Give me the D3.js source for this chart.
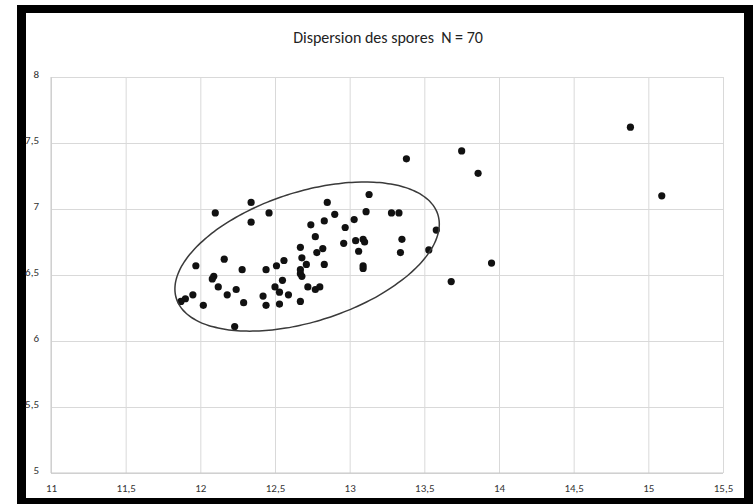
<!DOCTYPE html>
<meta charset="utf-8">
<style>
    body { margin: 0; background: #fff; }
    text { font-family: Carlito, Calibri, Lato, "Liberation Sans", sans-serif; }
    .tick text { fill: #333; font-size: 11px; }
</style>
<body>
<script src="https://cdn.jsdelivr.net/npm/d3@7/dist/d3.min.js"></script>
<script>

    var width = 753;
    var height = 504;

    // axis ticks
    var xTicks = [11, 11.5, 12, 12.5, 13, 13.5, 14, 14.5, 15, 15.5];
    var yTicks = [5, 5.5, 6, 6.5, 7, 7.5, 8];

    // spore length (x) and width (y)
    var sporeX = [14.88, 15.09, 13.75, 13.38, 13.86, 13.13, 13.95, 13.68, 13.58, 13.53,
        13.28, 13.33, 13.35, 13.34, 13.11, 13.09, 13.10, 13.09, 13.09, 13.04,
        13.06, 13.03, 12.97, 12.96, 12.90, 12.85, 12.83, 12.74, 12.77, 12.82,
        12.78, 12.83, 12.67, 12.68, 12.71, 12.67, 12.67, 12.68, 12.72, 12.77,
        12.80, 12.56, 12.51, 12.55, 12.50, 12.53, 12.59, 12.53, 12.67, 12.44,
        12.42, 12.44, 12.46, 12.34, 12.34, 12.28, 12.29, 12.24, 12.23, 12.16,
        12.18, 12.12, 12.10, 12.09, 12.08, 11.97, 12.02, 11.95, 11.90, 11.87];
    var sporeY = [7.62, 7.10, 7.44, 7.38, 7.27, 7.11, 6.59, 6.45, 6.84, 6.69,
        6.97, 6.97, 6.77, 6.67, 6.98, 6.77, 6.75, 6.55, 6.57, 6.76,
        6.68, 6.92, 6.86, 6.74, 6.96, 7.05, 6.91, 6.88, 6.79, 6.70,
        6.67, 6.58, 6.71, 6.63, 6.58, 6.54, 6.51, 6.49, 6.41, 6.39,
        6.41, 6.61, 6.57, 6.46, 6.41, 6.37, 6.35, 6.28, 6.30, 6.54,
        6.34, 6.27, 6.97, 7.05, 6.90, 6.54, 6.29, 6.39, 6.11, 6.62,
        6.35, 6.41, 6.97, 6.49, 6.47, 6.57, 6.27, 6.35, 6.32, 6.30];

    // hand-drawn ellipse: centre and two conjugate half-axes, in data units
    var ellipseCentre = [12.715, 6.64];
    var ellipseAxisA = [0.875, 0.32];
    var ellipseAxisB = [0.134, -0.466];

    var svg = d3.select("body").append("svg")
        .attr("width", width)
        .attr("height", height);

    // black frame
    svg.append("rect").attr("x", 17).attr("y", 5)
        .attr("width", 736).attr("height", 499).style("fill", "#000");
    svg.append("rect").attr("x", 26).attr("y", 13)
        .attr("width", 718).attr("height", 485).style("fill", "#fff");

    var x = d3.scaleLinear().domain([11, 15.5]).range([51, 723]);
    var y = d3.scaleLinear().domain([5, 8]).range([473, 77]);

    var fmt = function (d) {
        return String(d).replace(".", ",");
    };

    /////////////////////////////////
    // GRID
    /////////////////////////////////

    svg.append("g")
        .attr("transform", "translate(0," + y(8) + ")")
        .call(d3.axisBottom(x).tickValues(xTicks).tickSize(y(5) - y(8)).tickFormat(""))
        .call(function (g) {
            g.select(".domain").remove();
            g.selectAll("line").style("stroke", "#d9d9d9");
        });

    svg.append("g")
        .attr("transform", "translate(" + x(11) + ",0)")
        .call(d3.axisRight(y).tickValues(yTicks).tickSize(x(15.5) - x(11)).tickFormat(""))
        .call(function (g) {
            g.select(".domain").remove();
            g.selectAll("line").style("stroke", "#d9d9d9");
        });

    // axis lines
    svg.append("line")
        .attr("x1", x(11)).attr("x2", x(15.5))
        .attr("y1", y(5)).attr("y2", y(5))
        .style("stroke", "#c8c8c8");
    svg.append("line")
        .attr("x1", x(11)).attr("x2", x(11))
        .attr("y1", y(5)).attr("y2", y(8))
        .style("stroke", "#c8c8c8");

    /////////////////////////////////
    // TICK LABELS
    /////////////////////////////////

    svg.append("g")
        .attr("transform", "translate(0," + (y(5) + 8) + ")")
        .call(d3.axisBottom(x).tickValues(xTicks).tickSize(0).tickFormat(fmt))
        .call(function (g) {
            g.select(".domain").remove();
        });

    svg.append("g")
        .attr("transform", "translate(" + (x(11) - 9) + ",-3)")
        .call(d3.axisLeft(y).tickValues(yTicks).tickSize(0).tickFormat(fmt))
        .call(function (g) {
            g.select(".domain").remove();
        });

    /////////////////////////////////
    // POINTS
    /////////////////////////////////

    var points = sporeX.map(function (v, i) {
        return {x: v, y: sporeY[i]};
    });

    svg.selectAll("circle.dot")
        .data(points)
        .enter()
        .append("circle")
        .attr("class", "dot")
        .attr("cx", function (d) { return x(d.x); })
        .attr("cy", function (d) { return y(d.y); })
        .attr("r", 3.6)
        .style("fill", "#111");

    /////////////////////////////////
    // ELLIPSE
    /////////////////////////////////

    var ellipsePts = d3.range(0, 360, 3).map(function (deg) {
        var t = deg * Math.PI / 180;
        return [
            x(ellipseCentre[0] + ellipseAxisA[0] * Math.cos(t) + ellipseAxisB[0] * Math.sin(t)),
            y(ellipseCentre[1] + ellipseAxisA[1] * Math.cos(t) + ellipseAxisB[1] * Math.sin(t))
        ];
    });

    svg.append("path")
        .attr("d", d3.line().curve(d3.curveCardinalClosed)(ellipsePts))
        .style("fill", "none")
        .style("stroke", "#3a3a3a")
        .style("stroke-width", 1.5);

    /////////////////////////////////
    // TITLE
    /////////////////////////////////

    svg.append("text")
        .attr("x", 388)
        .attr("y", 43)
        .attr("text-anchor", "middle")
        .style("font-size", "16px")
        .style("white-space", "pre")
        .style("fill", "#222")
        .text("Dispersion des spores  N = 70");

</script>
</body>
</html>
